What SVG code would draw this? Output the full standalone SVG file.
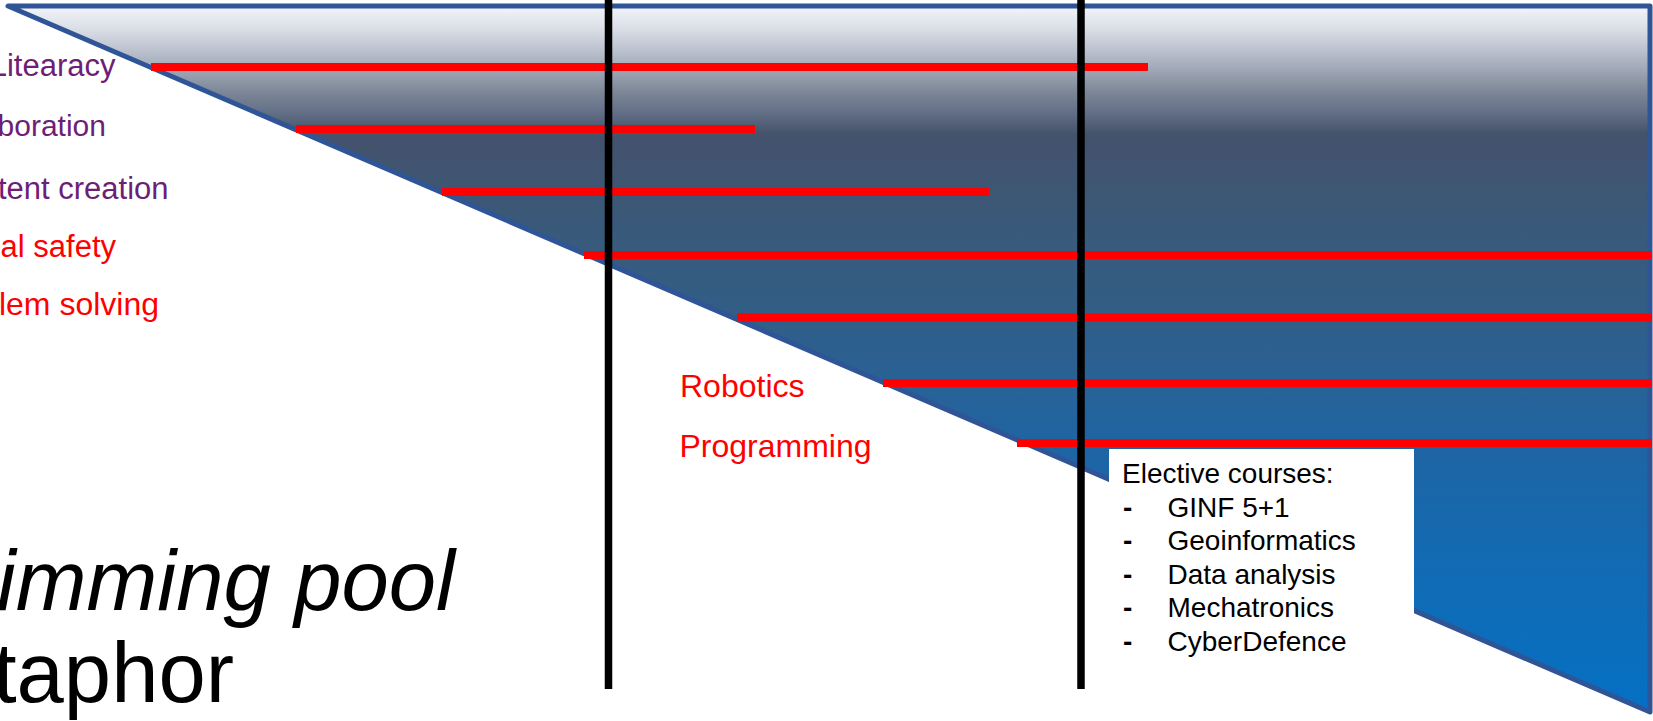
<svg xmlns="http://www.w3.org/2000/svg" width="1653" height="721" viewBox="0 0 1653 721">
  <defs>
    <linearGradient id="water" gradientUnits="userSpaceOnUse" x1="0" y1="6" x2="0" y2="712">
      <stop offset="0" stop-color="#F2F4F9"/>
      <stop offset="0.03" stop-color="#DCE0E8"/>
      <stop offset="0.06" stop-color="#BEC4D0"/>
      <stop offset="0.09" stop-color="#A0A8B6"/>
      <stop offset="0.12" stop-color="#7E8898"/>
      <stop offset="0.15" stop-color="#647087"/>
      <stop offset="0.18" stop-color="#45536C"/>
      <stop offset="0.19" stop-color="#43526C"/>
      <stop offset="0.27" stop-color="#3D5775"/>
      <stop offset="0.35" stop-color="#375B7E"/>
      <stop offset="0.45" stop-color="#305E88"/>
      <stop offset="0.54" stop-color="#286297"/>
      <stop offset="0.62" stop-color="#1F64A3"/>
      <stop offset="0.77" stop-color="#136AB1"/>
      <stop offset="1" stop-color="#0570C4"/>
    </linearGradient>
    <style>
      .lbl { font-family: "Liberation Sans", Arial, sans-serif; font-size: 31px; }
      .purple { fill: #6E1E76; }
      .red { fill: #FF0000; }
      .el { font-family: "Liberation Sans", Arial, sans-serif; font-size: 28px; fill: #000000; }
      .dash { font-family: "Liberation Sans", Arial, sans-serif; font-size: 28px; font-weight: bold; fill: #000000; }
      .big { font-family: "Liberation Sans", Arial, sans-serif; font-size: 85px; fill: #000000; }
      .bar { stroke: #FF0000; stroke-width: 8; fill: none; }
      .col { stroke: #000000; stroke-width: 7.5; fill: none; }
    </style>
  </defs>
  <rect x="0" y="0" width="1653" height="721" fill="#FFFFFF"/>

  <g id="pool">
    <polygon points="8,6 1650,6 1650,712" fill="url(#water)" stroke="#2F5597" stroke-width="5" stroke-linejoin="round"/>
  </g>

  <g id="connectors">
    <line class="bar" x1="151" y1="67" x2="1148" y2="67"/>
    <line class="bar" x1="296" y1="129" x2="755" y2="129"/>
    <line class="bar" x1="442" y1="192" x2="989" y2="192"/>
    <line class="bar" x1="584" y1="255" x2="1652" y2="255"/>
    <line class="bar" x1="737" y1="317.5" x2="1652" y2="317.5"/>
    <line class="bar" x1="883" y1="383" x2="1652" y2="383"/>
    <line class="bar" x1="1017" y1="443" x2="1652" y2="443"/>
  </g>

  <g id="electives">
    <rect x="1109" y="449" width="305" height="255" fill="#FFFFFF"/>
    <text class="el" x="1122" y="482.5">Elective courses:</text>
    <text class="dash" x="1123" y="516.5">-</text>
    <text class="el" x="1167.5" y="516.5">GINF 5+1</text>
    <text class="dash" x="1123" y="550">-</text>
    <text class="el" x="1167.5" y="550">Geoinformatics</text>
    <text class="dash" x="1123" y="584">-</text>
    <text class="el" x="1167.5" y="584">Data analysis</text>
    <text class="dash" x="1123" y="617">-</text>
    <text class="el" x="1167.5" y="617">Mechatronics</text>
    <text class="dash" x="1123" y="650.5">-</text>
    <text class="el" x="1167.5" y="650.5">CyberDefence</text>
  </g>

  <g id="dividers">
    <line class="col" x1="608.5" y1="0" x2="608.5" y2="689"/>
    <line class="col" x1="1081" y1="0" x2="1081" y2="689"/>
  </g>

  <g id="labels">
    <text class="lbl purple" x="115.5" y="76" text-anchor="end">Litearacy</text>
    <text class="lbl purple" x="106" y="136" text-anchor="end" style="font-size:30px">boration</text>
    <text class="lbl purple" x="168.5" y="198.5" text-anchor="end">tent creation</text>
    <text class="lbl red" x="116" y="256.5" text-anchor="end">al safety</text>
    <text class="lbl red" x="159" y="315" text-anchor="end" style="font-size:32px">lem solving</text>
    <text class="lbl red" x="680" y="396.5" style="font-size:32px">Robotics</text>
    <text class="lbl red" x="679.5" y="456.5" style="font-size:32px">Programming</text>
  </g>

  <g id="title">
    <text class="big" x="455" y="610" text-anchor="end" font-style="italic">imming pool</text>
    <text class="big" x="234" y="701.5" text-anchor="end">taphor</text>
  </g>
</svg>
